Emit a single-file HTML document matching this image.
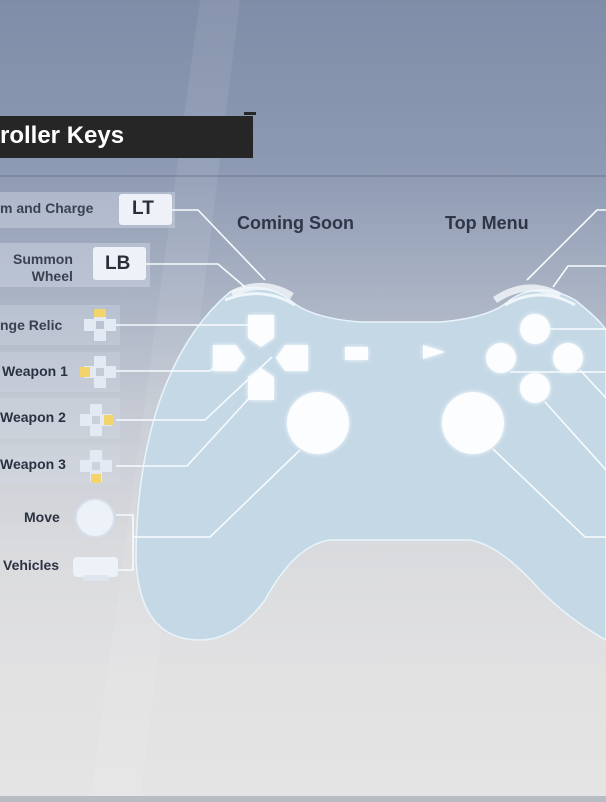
<!DOCTYPE html>
<html><head><meta charset="utf-8"><style>
html,body{margin:0;padding:0}
body{width:606px;height:802px;overflow:hidden;position:relative;font-family:"Liberation Sans",sans-serif;
background:linear-gradient(180deg,#7f8da8 0%,#8c99b2 20%,#a6b0c2 35%,#c3c8d2 50%,#d9dadd 68%,#e2e2e3 85%,#e4e4e4 100%);}
.t{position:absolute;font-weight:bold;color:#2a3242;font-size:14px;white-space:nowrap}
</style></head><body>
<svg width="606" height="802" style="position:absolute;left:0;top:0">
<defs>
<filter id="g" x="-50%" y="-50%" width="200%" height="200%"><feGaussianBlur stdDeviation="2.5" result="b"/><feMerge><feMergeNode in="b"/><feMergeNode in="SourceGraphic"/></feMerge></filter>
</defs>
<polygon points="200,0 240,0 140,802 90,802" fill="#ffffff" opacity="0.08"/>
<line x1="0" y1="176" x2="606" y2="176" stroke="#6e7890" stroke-width="1"/>
<!-- label bands -->
<rect x="0" y="192" width="175" height="36" fill="#d2d9e6" opacity="0.45"/>
<rect x="0" y="243" width="150" height="44" fill="#d2d9e6" opacity="0.45"/>
<rect x="0" y="305" width="120" height="40" fill="#d2d9e6" opacity="0.35"/>
<rect x="0" y="352" width="120" height="40" fill="#d2d9e6" opacity="0.35"/>
<rect x="0" y="398" width="120" height="40" fill="#d2d9e6" opacity="0.35"/>
<rect x="0" y="445" width="120" height="40" fill="#d2d9e6" opacity="0.35"/>
<!-- controller body -->
<path d="M230,292 Q262,280 290,300 Q310,318 360,322 L440,322 Q490,318 510,300 Q540,280 575,300 Q600,320 606,330 L606,640 Q570,620 540,590 Q500,545 470,540 L330,540 Q295,545 265,600 Q235,640 200,640 Q140,640 136,560 Q136,470 160,400 Q185,330 230,292 Z" fill="#c4d8e6" stroke="#e8f4fa" stroke-width="1.5"/>
<path d="M225,300 Q262,285 295,305" fill="none" stroke="#eef6fa" stroke-width="3"/>
<path d="M505,305 Q540,285 575,305" fill="none" stroke="#eef6fa" stroke-width="3"/>
<path d="M232,294 Q262,278 292,296" fill="none" stroke="#f4f8fb" stroke-width="7" opacity="0.8"/>
<path d="M495,300 Q528,278 560,296" fill="none" stroke="#f4f8fb" stroke-width="7" opacity="0.8"/>
<g filter="url(#g)" fill="#fbfdfe">
<polygon points="248,315 274,315 274,338 261,347 248,338"/>
<polygon points="213,345 236,345 245,358 236,371 213,371"/>
<polygon points="308,345 285,345 276,358 285,371 308,371"/>
<polygon points="248,400 274,400 274,377 261,368 248,377"/>
<rect x="345" y="347" width="23" height="13"/>
<polygon points="423,345 445,352 423,359"/>
<circle cx="535" cy="329" r="15"/>
<circle cx="501" cy="358" r="15"/>
<circle cx="568" cy="358" r="15"/>
<circle cx="535" cy="388" r="15"/>
<circle cx="318" cy="423" r="31"/>
<circle cx="473" cy="423" r="31"/>
</g>
<g fill="none" stroke="#f8fbfd" stroke-width="1.6">
<polyline points="172,210 198,210 265,280"/>
<polyline points="146,264 218,264 245,287"/>
<polyline points="116,325 248,325"/>
<polyline points="116,371 210,371 222,358"/>
<polyline points="116,420 205,420 272,357"/>
<polyline points="116,466 187,466 252,395"/>
<polyline points="116,515 133,515 133,570 116,570"/>
<polyline points="133,537 210,537 300,450"/>
<polyline points="527,280 597,210 606,210"/>
<polyline points="553,287 568,266 606,266"/>
<polyline points="550,329 606,329"/>
<polyline points="510,372 606,372"/>
<polyline points="580,370 606,398"/>
<polyline points="545,402 606,470"/>
<polyline points="493,449 585,537 606,537"/>
</g>
<!-- LT/LB boxes -->
<rect x="119" y="194" width="53" height="31" rx="3" fill="#eef2f8"/>
<rect x="93" y="247" width="53" height="33" rx="3" fill="#eef2f8"/>
<!-- dpad icons -->
<g fill="#e4eaf4">
<g transform="translate(100,325)"><rect x="-6" y="-16" width="12" height="12"/><rect x="-6" y="4" width="12" height="12"/><rect x="-16" y="-6" width="12" height="12"/><rect x="4" y="-6" width="12" height="12"/><rect x="-6" y="-16" width="12" height="8" fill="#f3d46a"/></g>
<g transform="translate(100,372)"><rect x="-6" y="-16" width="12" height="12"/><rect x="-6" y="4" width="12" height="12"/><rect x="-16" y="-6" width="12" height="12"/><rect x="4" y="-6" width="12" height="12"/><rect x="-20" y="-5" width="10" height="10" fill="#f3d46a"/></g>
<g transform="translate(96,420)"><rect x="-6" y="-16" width="12" height="12"/><rect x="-6" y="4" width="12" height="12"/><rect x="-16" y="-6" width="12" height="12"/><rect x="4" y="-6" width="12" height="12"/><rect x="8" y="-5" width="10" height="10" fill="#f3d46a"/></g>
<g transform="translate(96,466)"><rect x="-6" y="-16" width="12" height="12"/><rect x="-6" y="4" width="12" height="12"/><rect x="-16" y="-6" width="12" height="12"/><rect x="4" y="-6" width="12" height="12"/><rect x="-5" y="8" width="10" height="9" fill="#f3d46a"/></g>
</g>
<circle cx="95" cy="518" r="19" fill="#edf1f8" stroke="#d6dfec" stroke-width="2"/>
<rect x="73" y="557" width="45" height="20" rx="4" fill="#edf1f8"/>
<rect x="83" y="575" width="26" height="6" rx="2" fill="#dfe6f0"/>
<rect x="0" y="796" width="606" height="6" fill="#b8bcc3"/>
</svg>
<div style="position:absolute;left:0;top:116px;width:253px;height:42px;background:#262626"></div>
<div style="position:absolute;left:244px;top:112px;width:12px;height:3px;background:#262626"></div>
<div class="t" style="left:0;top:122px;font-size:24px;color:#fff">roller Keys</div>
<div class="t" style="left:0;top:200px;font-size:14px;color:#3a4252">m and Charge</div>
<div class="t" style="left:132px;top:198px;font-size:19px;color:#2a2e38;font-weight:bold">LT</div>
<div class="t" style="left:13px;top:251px;font-size:14px;text-align:right;line-height:17px;color:#3a4252">Summon<br>&nbsp;&nbsp;Wheel</div>
<div class="t" style="left:105px;top:253px;font-size:19px;color:#2a2e38">LB</div>
<div class="t" style="left:0;top:317px;color:#3a4252">nge Relic</div>
<div class="t" style="left:2px;top:363px;color:#2a3242">Weapon 1</div>
<div class="t" style="left:0;top:409px;color:#2a3242">Weapon 2</div>
<div class="t" style="left:0;top:456px;color:#2a3242">Weapon 3</div>
<div class="t" style="left:24px;top:509px;color:#2a3242">Move</div>
<div class="t" style="left:3px;top:557px;color:#2a3242">Vehicles</div>
<div class="t" style="left:237px;top:213px;font-size:18px;color:#2e3648">Coming Soon</div>
<div class="t" style="left:445px;top:213px;font-size:18px;color:#2e3648">Top Menu</div>
</body></html>
